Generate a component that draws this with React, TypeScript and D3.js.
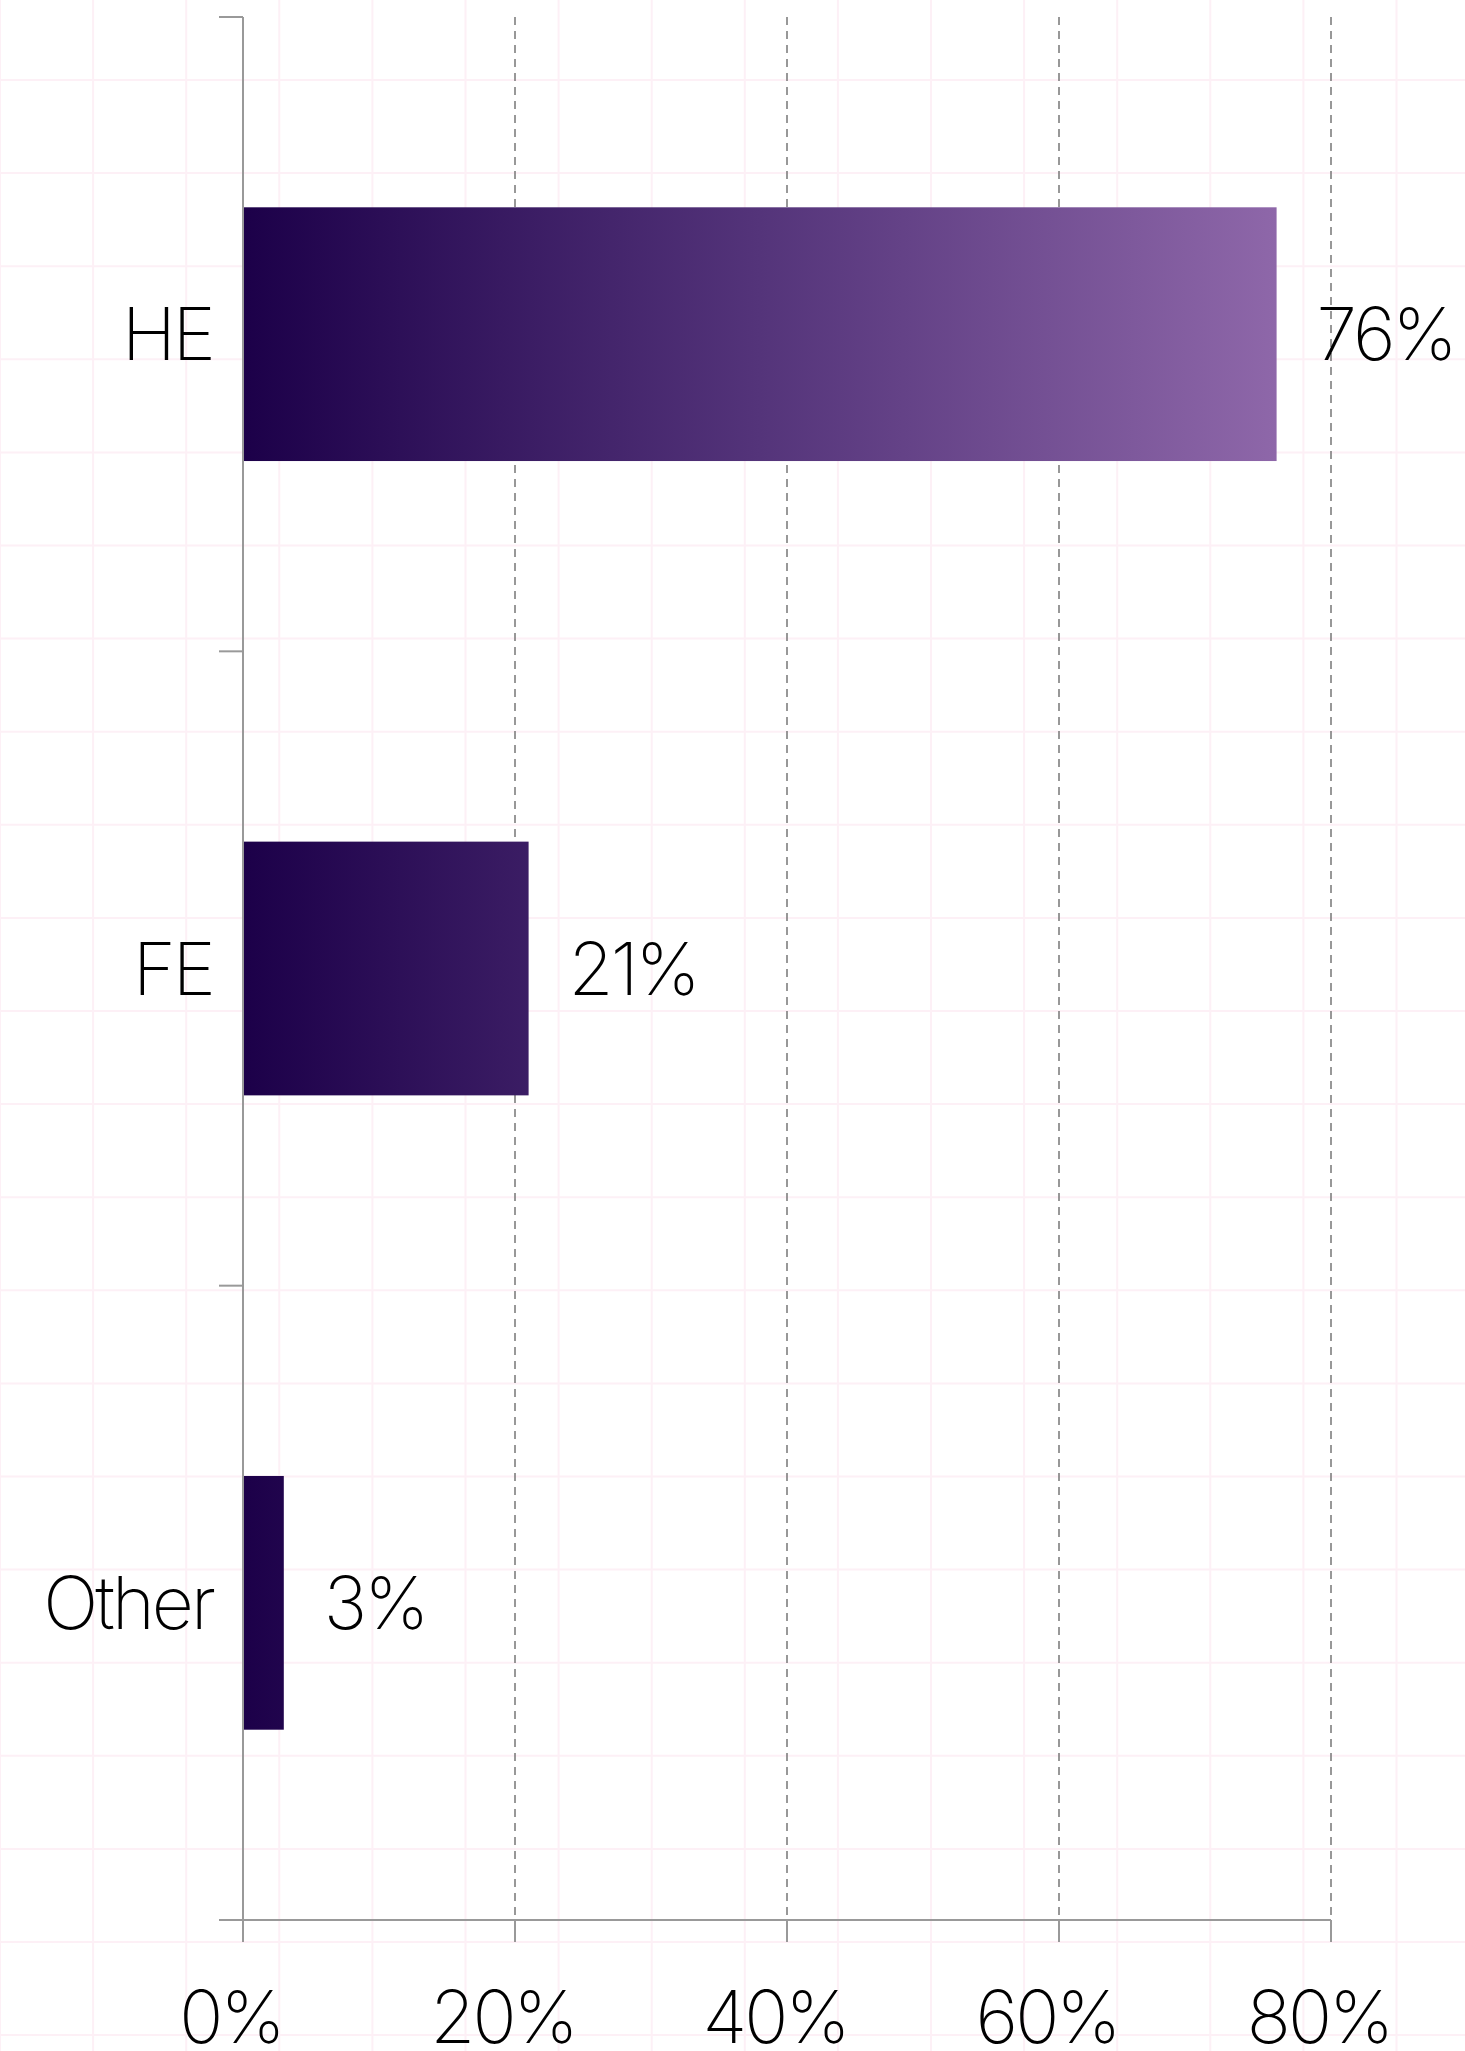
import { FC } from "react";
import * as d3 from "d3";

const categories = ["HE", "FE", "Other"];
const values = [76, 21, 3];
const xTicks = [0, 20, 40, 60, 80];

const W = 1465;
const H = 2051;
const margin = { top: 17, right: 134, bottom: 131, left: 243 };
const font = "Inter, 'Noto Sans', sans-serif";

const App: FC = () => {
  const x = d3
    .scaleLinear()
    .domain([0, 80])
    .range([margin.left, W - margin.right]);
  const y = d3
    .scaleBand()
    .domain(categories)
    .range([margin.top, H - margin.bottom])
    .paddingInner(0.6)
    .paddingOuter(0.3);
  const band = d3
    .scaleBand()
    .domain(categories)
    .range([margin.top, H - margin.bottom]);

  const bottom = H - margin.bottom;
  const cell = 93.1;
  const gx = d3.range(0, W + cell, cell);
  const gy = d3.range(80 - cell, H + cell, cell);

  const yEdges = [...categories.map((c) => band(c)), bottom];

  return (
    <svg
      width={W}
      height={H}
      style={{ position: "absolute", left: 0, top: 0, background: "#fff" }}
    >
      <defs>
        <linearGradient
          id="barGrad"
          gradientUnits="userSpaceOnUse"
          x1={x(0)}
          x2={x(values[0])}
          y1={0}
          y2={0}
        >
          <stop offset="0%" stopColor="#1c0049" />
          <stop offset="50%" stopColor="#54347a" />
          <stop offset="100%" stopColor="#8e67a9" />
        </linearGradient>
      </defs>

      {/* background grid */}
      <g stroke="#fdf0f6" strokeWidth={2}>
        {gx.map((d, i) => (
          <line key={"gx" + i} x1={d} x2={d} y1={0} y2={H} />
        ))}
        {gy.map((d, i) => (
          <line key={"gy" + i} x1={0} x2={W} y1={d} y2={d} />
        ))}
      </g>

      {/* dashed gridlines */}
      <g stroke="#777" strokeWidth={1.5} strokeDasharray="8 6">
        {xTicks
          .filter((t) => t > 0)
          .map((t) => (
            <line key={t} x1={x(t)} x2={x(t)} y1={margin.top} y2={bottom} />
          ))}
      </g>

      {/* bars */}
      {categories.map((c, i) => (
        <rect
          key={c}
          x={x(0)}
          y={y(c)}
          width={x(values[i]) - x(0)}
          height={y.bandwidth()}
          fill="url(#barGrad)"
        />
      ))}

      {/* axes */}
      <g stroke="#999" strokeWidth={2} fill="none">
        <line x1={x(0)} x2={x(0)} y1={margin.top} y2={bottom + 22} />
        <line x1={x(0) - 24} x2={x(80)} y1={bottom} y2={bottom} />
        {yEdges.map((e, i) => (
          <line key={"yt" + i} x1={x(0) - 24} x2={x(0)} y1={e} y2={e} />
        ))}
        {xTicks.map((t) => (
          <line key={"xt" + t} x1={x(t)} x2={x(t)} y1={bottom} y2={bottom + 22} />
        ))}
      </g>

      {/* category labels */}
      <g
        fontFamily={font}
        fontWeight={200}
        fontSize={73}
        letterSpacing="-0.04em"
        fill="#000"
      >
        {categories.map((c) => (
          <text
            key={c}
            x={x(0) - 30}
            y={band(c)! + band.bandwidth() / 2 + 26}
            textAnchor="end"
          >
            {c}
          </text>
        ))}
        {categories.map((c, i) => (
          <text
            key={"v" + c}
            x={x(values[i]) + 40}
            y={band(c)! + band.bandwidth() / 2 + 26}
          >
            {values[i]}%
          </text>
        ))}
        {xTicks.map((t) => (
          <text key={"xl" + t} x={x(t) - 12} y={2043} textAnchor="middle">
            {t}%
          </text>
        ))}
      </g>
    </svg>
  );
};

export default App;
